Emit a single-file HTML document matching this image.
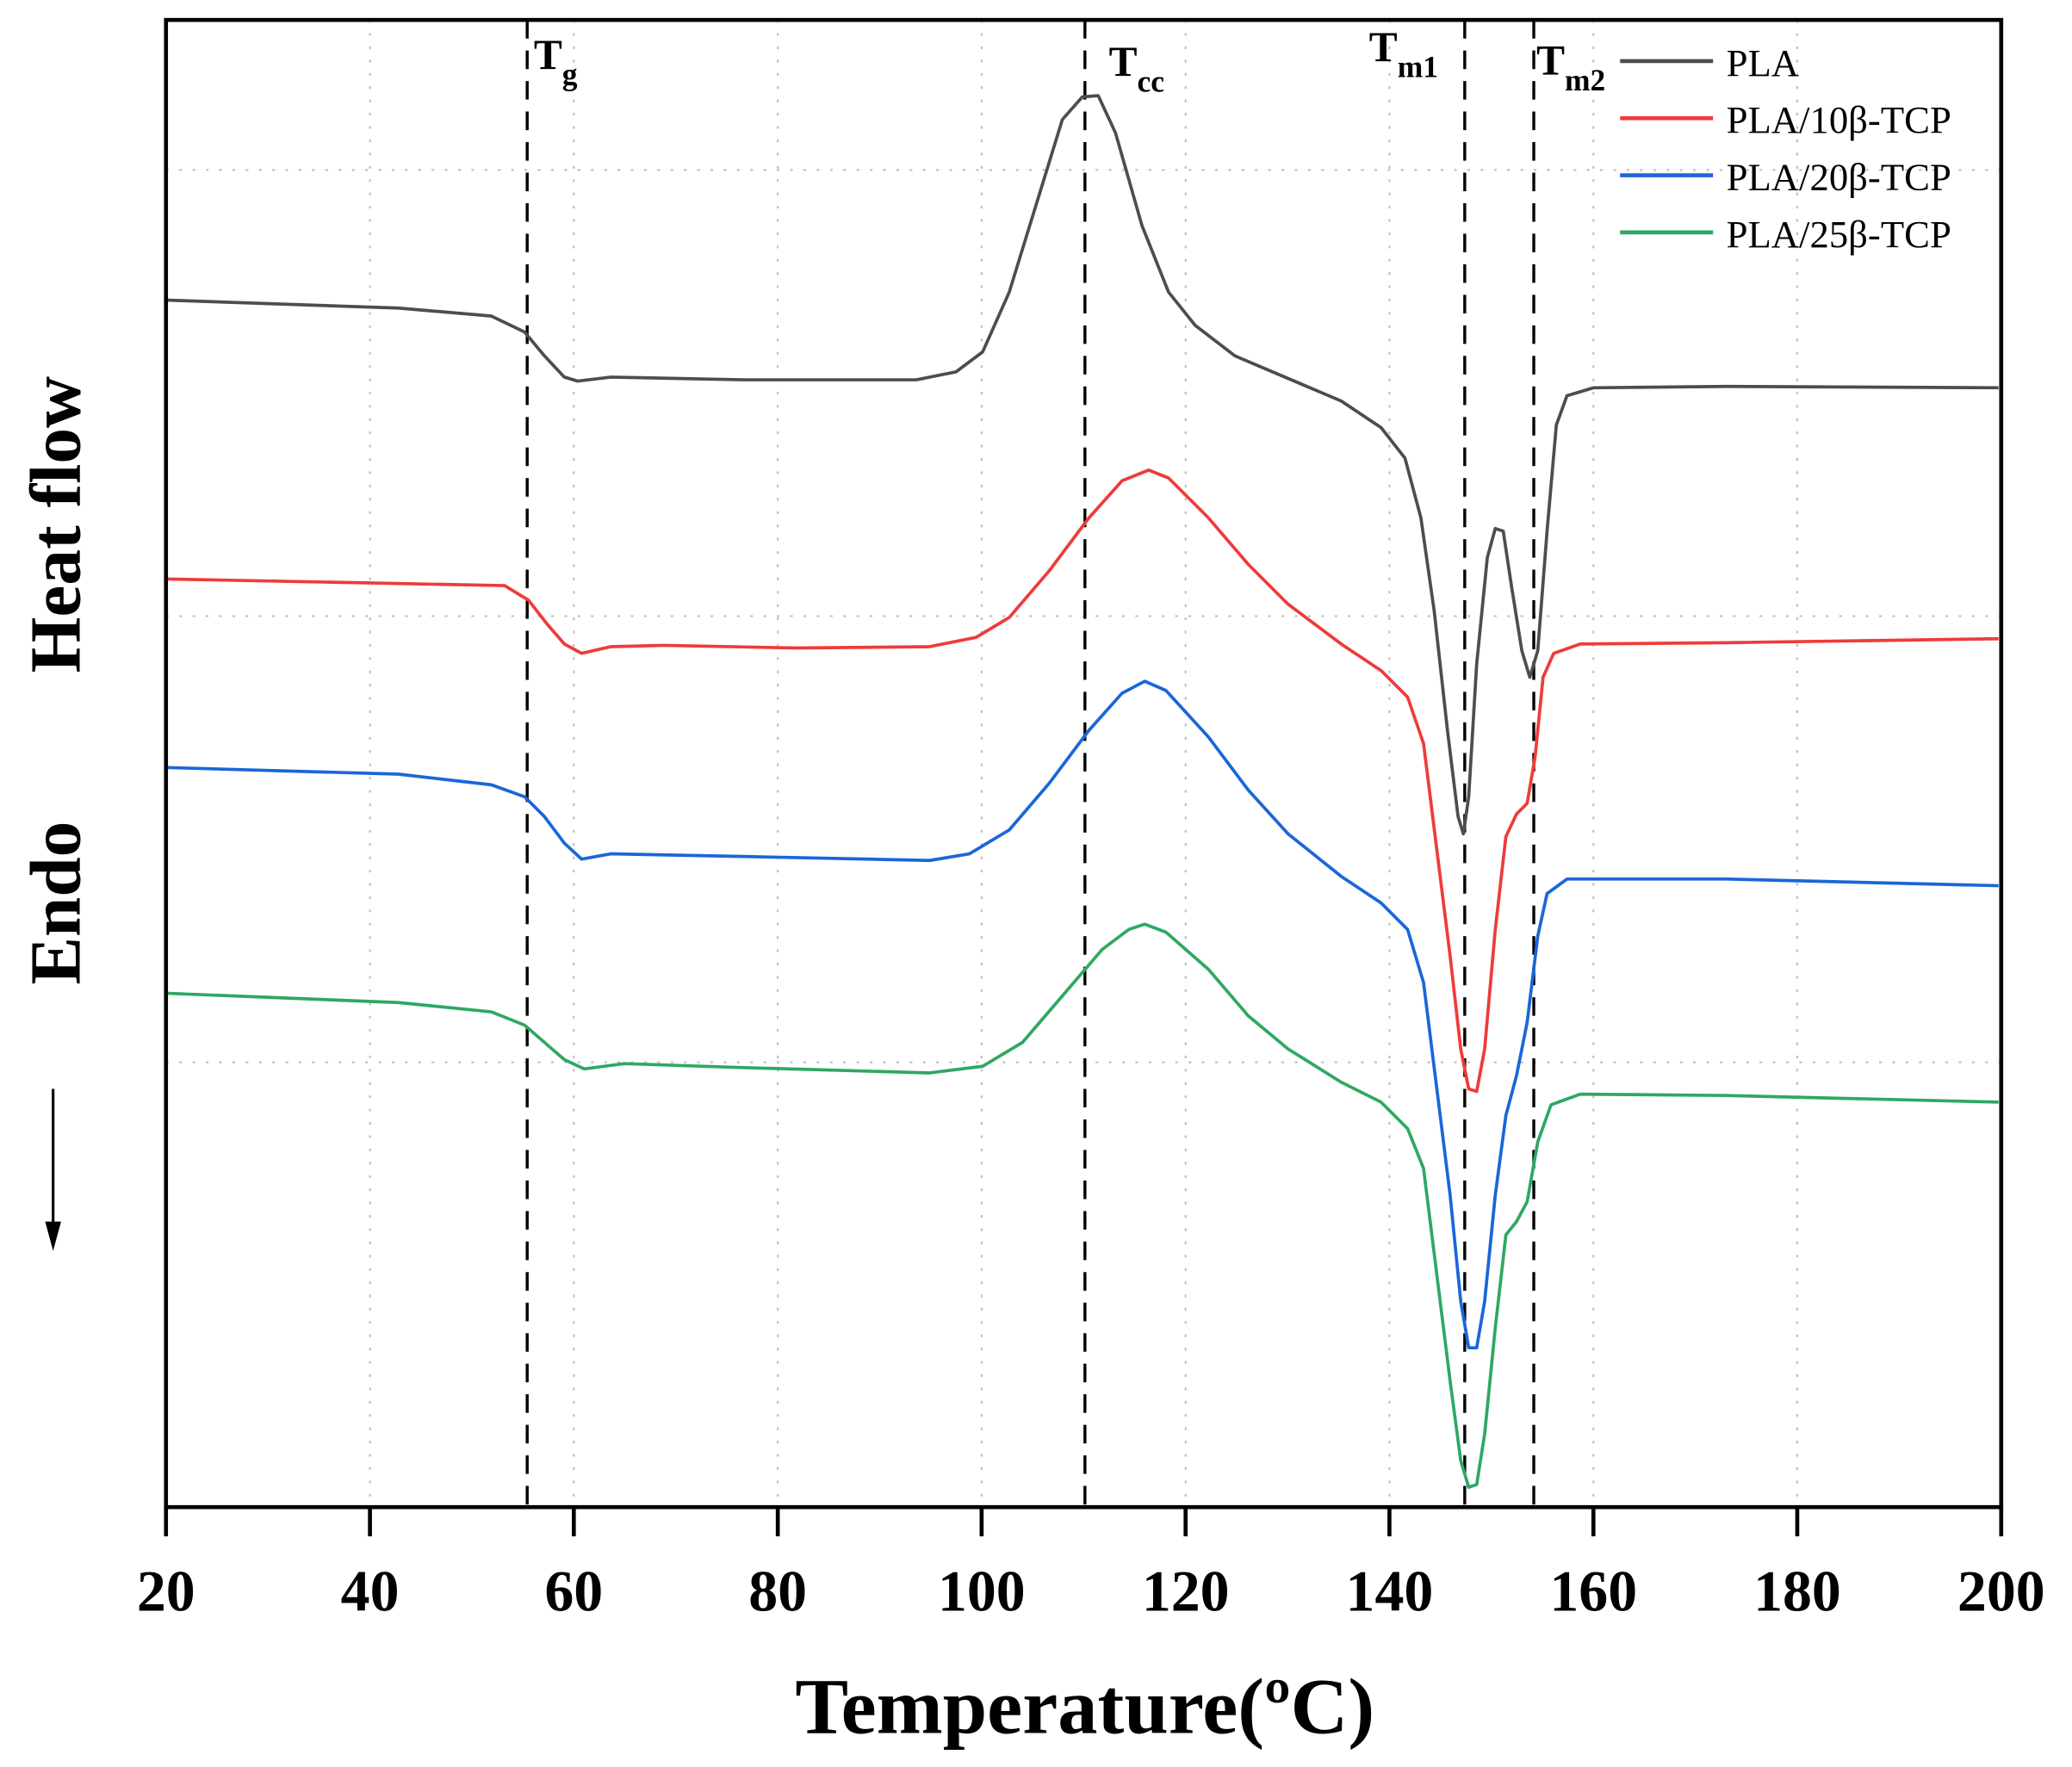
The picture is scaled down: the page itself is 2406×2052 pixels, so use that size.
<!DOCTYPE html>
<html><head><meta charset="utf-8"><style>html,body{margin:0;padding:0;background:#fff}svg{display:block}</style></head>
<body>
<svg width="2406" height="2052" viewBox="0 0 1560.3 1330.7" xmlns="http://www.w3.org/2000/svg" font-family="Liberation Serif, serif">
<rect width="1560.3" height="1330.7" fill="#fff"/>
<g stroke="#bbb" stroke-width="1.3" stroke-dasharray="2,8">
<line x1="125" y1="128" x2="1507" y2="128"/><line x1="125" y1="464" x2="1507" y2="464"/><line x1="125" y1="800" x2="1507" y2="800"/>
<line x1="278.6" y1="15" x2="278.6" y2="1135"/><line x1="432.1" y1="15" x2="432.1" y2="1135"/><line x1="585.7" y1="15" x2="585.7" y2="1135"/><line x1="739.2" y1="15" x2="739.2" y2="1135"/><line x1="892.8" y1="15" x2="892.8" y2="1135"/><line x1="1046.3" y1="15" x2="1046.3" y2="1135"/><line x1="1199.9" y1="15" x2="1199.9" y2="1135"/><line x1="1353.4" y1="15" x2="1353.4" y2="1135"/>
</g>
<g stroke="#000" stroke-width="2.2" stroke-dasharray="14,9">
<line x1="397" y1="15" x2="397" y2="1135"/><line x1="817" y1="15" x2="817" y2="1135"/><line x1="1103" y1="15" x2="1103" y2="1135"/><line x1="1155" y1="15" x2="1155" y2="1135"/>
</g>
<g fill="none" stroke-width="2.4" stroke-linejoin="round">
<polyline stroke="#4d4d4d" points="125,226 300,232 370,238 395,250 410,268 425,284 435,287 460,284 560,286 690,286 720,280 740,265 760,220 780,155 800,90 815,73 827,72 840,100 860,170 880,220 900,245 930,268 970,285 1010,302 1040,322 1058,345 1070,390 1080,460 1090,550 1098,615 1102,628 1106,600 1112,500 1120,420 1126,398 1132,400 1138,440 1146,490 1152,510 1158,490 1165,400 1172,320 1180,298 1200,292 1300,291 1505,292"/>
<polyline stroke="#ee3b3b" points="125,436 380,441 398,452 412,470 425,485 438,492 460,487 500,486 600,488 700,487 735,480 760,465 790,430 820,390 845,362 865,354 880,360 910,390 940,425 970,455 1010,485 1040,505 1060,525 1072,560 1082,640 1092,720 1100,790 1106,820 1112,822 1118,790 1126,700 1134,630 1142,613 1150,605 1156,570 1162,510 1170,492 1190,485 1300,484 1505,481"/>
<polyline stroke="#1a66d9" points="125,578 300,583 370,591 395,600 410,615 425,635 438,647 460,643 560,645 700,648 730,643 760,625 790,590 820,550 845,522 862,513 878,520 910,555 940,595 970,628 1010,660 1040,680 1060,700 1072,740 1082,820 1092,900 1100,980 1106,1015 1112,1015 1118,980 1126,900 1134,840 1142,810 1150,770 1158,705 1165,673 1180,662 1300,662 1505,667"/>
<polyline stroke="#2ea862" points="125,748 300,755 370,762 395,772 410,785 425,798 440,805 470,801 560,804 700,808 740,803 770,785 800,750 830,715 850,700 862,696 878,702 910,730 940,765 970,790 1010,815 1040,830 1060,850 1072,880 1082,960 1092,1040 1100,1100 1106,1120 1112,1118 1118,1080 1126,1000 1134,930 1142,920 1150,905 1158,860 1168,832 1190,824 1300,825 1505,830"/>
</g>
<rect x="125" y="15" width="1382" height="1120" fill="none" stroke="#000" stroke-width="3"/>
<g stroke="#000" stroke-width="3">
<line x1="125" y1="1135" x2="125" y2="1157"/><line x1="278.6" y1="1135" x2="278.6" y2="1157"/><line x1="432.1" y1="1135" x2="432.1" y2="1157"/><line x1="585.7" y1="1135" x2="585.7" y2="1157"/><line x1="739.2" y1="1135" x2="739.2" y2="1157"/><line x1="892.8" y1="1135" x2="892.8" y2="1157"/><line x1="1046.3" y1="1135" x2="1046.3" y2="1157"/><line x1="1199.9" y1="1135" x2="1199.9" y2="1157"/><line x1="1353.4" y1="1135" x2="1353.4" y2="1157"/><line x1="1507" y1="1135" x2="1507" y2="1157"/>
</g>
<g font-size="44" font-weight="bold" text-anchor="middle">
<text x="125" y="1213">20</text><text x="278.6" y="1213">40</text><text x="432.1" y="1213">60</text><text x="585.7" y="1213">80</text><text x="739.2" y="1213">100</text><text x="892.8" y="1213">120</text><text x="1046.3" y="1213">140</text><text x="1199.9" y="1213">160</text><text x="1353.4" y="1213">180</text><text x="1507" y="1213">200</text>
</g>
<text x="817" y="1305" font-size="60" font-weight="bold" text-anchor="middle">Temperature(ºC)</text>
<text transform="translate(60,395) rotate(-90)" font-size="54" font-weight="bold" text-anchor="middle">Heat flow</text>
<text transform="translate(60,680) rotate(-90)" font-size="54" font-weight="bold" text-anchor="middle">Endo</text>
<line x1="40" y1="820" x2="40" y2="925" stroke="#000" stroke-width="2"/>
<polygon points="34,920 46,920 40,942" fill="#000"/>
<g font-weight="bold" font-size="32">
<text x="402" y="52">T<tspan font-size="23" dy="12">g</tspan></text>
<text x="835" y="57">T<tspan font-size="23" dy="12">cc</tspan></text>
<text x="1031" y="46">T<tspan font-size="23" dy="12">m1</tspan></text>
<text x="1157" y="56">T<tspan font-size="23" dy="12">m2</tspan></text>
</g>
<g stroke-width="3">
<line x1="1220" y1="46" x2="1290" y2="46" stroke="#4d4d4d"/>
<line x1="1220" y1="89" x2="1290" y2="89" stroke="#ee3b3b"/>
<line x1="1220" y1="132" x2="1290" y2="132" stroke="#1a66d9"/>
<line x1="1220" y1="175" x2="1290" y2="175" stroke="#2ea862"/>
</g>
<g font-size="29">
<text x="1300" y="57">PLA</text><text x="1300" y="100">PLA/10β-TCP</text><text x="1300" y="143">PLA/20β-TCP</text><text x="1300" y="186">PLA/25β-TCP</text>
</g>
</svg>
</body></html>
